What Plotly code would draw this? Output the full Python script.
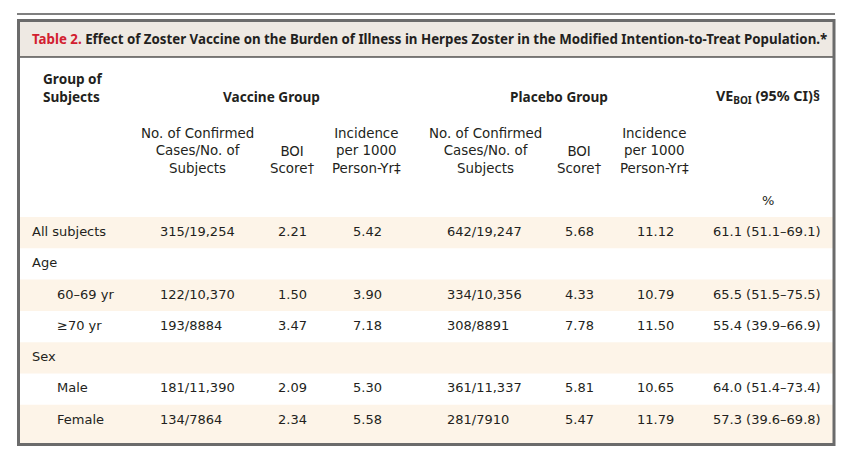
import plotly.graph_objects as go

# ---------------- data ----------------
groups = ["All subjects", "Age", "60–69 yr", "≥70 yr", "Sex", "Male", "Female"]
indent = [0, 0, 1, 1, 0, 1, 1]

vaccine_cases = ["315/19,254", "", "122/10,370", "193/8884", "", "181/11,390", "134/7864"]
vaccine_boi = [2.21, None, 1.50, 3.47, None, 2.09, 2.34]
vaccine_incidence = [5.42, None, 3.90, 7.18, None, 5.30, 5.58]

placebo_cases = ["642/19,247", "", "334/10,356", "308/8891", "", "361/11,337", "281/7910"]
placebo_boi = [5.68, None, 4.33, 7.78, None, 5.81, 5.47]
placebo_incidence = [11.12, None, 10.79, 11.50, None, 10.65, 11.79]

ve_boi = [61.1, None, 65.5, 55.4, None, 64.0, 57.3]
ve_low = [51.1, None, 51.5, 39.9, None, 51.4, 39.6]
ve_high = [69.1, None, 75.5, 66.9, None, 73.4, 69.8]

title_label = "Table 2."
title_text = ("Effect of Zoster Vaccine on the Burden of Illness in Herpes Zoster "
              "in the Modified Intention-to-Treat Population.*")
sub_cases = "No. of Confirmed<br>Cases/No. of<br>Subjects"
sub_boi = "BOI<br>Score†"
sub_inc = "Incidence<br>per 1000<br>Person-Yr‡"

# ---------------- layout constants ----------------
W, H = 863, 456
FONT = "DejaVu Sans"
BFONT = "Noto Sans"
TXT = "#231F20"
ROW_TOP = 217
ROW_H = 31.3
BEIGE = "#FDF4E8"
TITLE_BG = "#EEE9E3"

row_y = [ROW_TOP + ROW_H * (i + 0.5) for i in range(len(groups))]

fmt2 = lambda v: "" if v is None else f"{v:.2f}"
ve_text = ["" if v is None else f"{v:.1f} ({lo:.1f}–{hi:.1f})"
           for v, lo, hi in zip(ve_boi, ve_low, ve_high)]

fig = go.Figure()

shapes = []
shapes.append(dict(type="line", x0=17, x1=835, y0=14, y1=14, line=dict(color="#000", width=1.2)))
for i in range(len(groups)):
    if i % 2 == 0:
        y0 = ROW_TOP + ROW_H * i
        y1 = 445 if i == len(groups) - 1 else y0 + ROW_H
        shapes.append(dict(type="rect", x0=20, x1=833, y0=y0, y1=y1,
                           fillcolor=BEIGE, line=dict(width=0), layer="below"))
shapes.append(dict(type="rect", x0=20, x1=833, y0=21, y1=57,
                   fillcolor=TITLE_BG, line=dict(width=0), layer="below"))
shapes.append(dict(type="line", x0=20, x1=835, y0=57, y1=57, line=dict(color="#000", width=1.2)))
shapes.append(dict(type="rect", x0=18.5, x1=834, y0=20.5, y1=444.5,
                   line=dict(color="#6B6B6B", width=3), fillcolor="rgba(0,0,0,0)"))

cols = [
    ([32 + 25 * k for k in indent], groups),
    ([160] * 7, vaccine_cases),
    ([278] * 7, [fmt2(v) for v in vaccine_boi]),
    ([353] * 7, [fmt2(v) for v in vaccine_incidence]),
    ([447] * 7, placebo_cases),
    ([565] * 7, [fmt2(v) for v in placebo_boi]),
    ([637] * 7, [fmt2(v) for v in placebo_incidence]),
    ([713] * 7, ve_text),
]
for xs, texts in cols:
    keep = [i for i, t in enumerate(texts) if t]
    fig.add_trace(go.Scatter(x=[xs[i] for i in keep], y=[row_y[i] for i in keep],
                             text=[texts[i] for i in keep], mode="text",
                             textposition="middle right", hoverinfo="skip",
                             textfont=dict(family=FONT, size=13, color=TXT),
                             showlegend=False))

ann = []
ann.append(dict(x=30, y=39, xanchor="left", yanchor="middle",
                text=f"<span style='color:#D2202F'>{title_label}</span> {title_text}",
                font=dict(family=BFONT, size=13.3, color=TXT, weight="bold")))
ann.append(dict(x=41, y=87, xanchor="left", yanchor="middle", align="left",
                text="Group of<br>Subjects", font=dict(family=BFONT, size=13.6, color=TXT, weight="bold")))
ann.append(dict(x=271, y=96, xanchor="center", yanchor="middle", text="Vaccine Group",
                font=dict(family=BFONT, size=13.6, color=TXT, weight="bold")))
ann.append(dict(x=559, y=96, xanchor="center", yanchor="middle", text="Placebo Group",
                font=dict(family=BFONT, size=13.6, color=TXT, weight="bold")))
ann.append(dict(x=768, y=96, xanchor="center", yanchor="middle",
                text="VE<sub>BOI</sub> (95% CI)§",
                font=dict(family=BFONT, size=14.3, color=TXT, weight="bold")))
for cx, cy, t in [(197, 151, sub_cases), (292, 160, sub_boi), (366, 151, sub_inc),
                  (485, 151, sub_cases), (579, 160, sub_boi), (654, 151, sub_inc)]:
    ann.append(dict(x=cx, y=cy, xanchor="center", yanchor="middle", align="center", text=t,
                    font=dict(family=FONT, size=13.4, color=TXT)))
ann.append(dict(x=768, y=200, xanchor="center", yanchor="middle", text="%",
                font=dict(family=FONT, size=13, color=TXT)))
for a in ann:
    a.update(xref="x", yref="y", showarrow=False)

fig.update_layout(
    width=W, height=H, margin=dict(l=0, r=0, t=0, b=0),
    paper_bgcolor="white", plot_bgcolor="white",
    xaxis=dict(range=[0, W], visible=False, fixedrange=True),
    yaxis=dict(range=[H, 0], visible=False, fixedrange=True),
    shapes=shapes, annotations=ann,
)
fig.write_html("out.html", config={"displayModeBar": False},
               post_script="document.body.style.margin='0';")
